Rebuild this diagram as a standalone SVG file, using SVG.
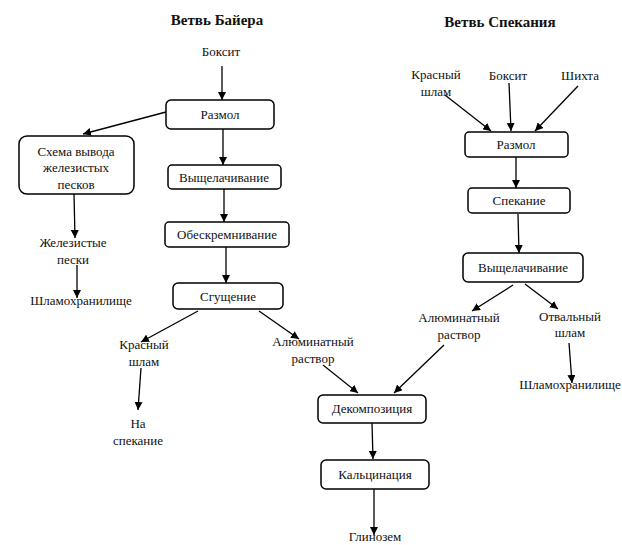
<svg xmlns="http://www.w3.org/2000/svg" width="622" height="545" viewBox="0 0 622 545">
<defs>
<marker id="ah" viewBox="0 0 10 10" refX="10" refY="5" markerWidth="8" markerHeight="8" markerUnits="userSpaceOnUse" orient="auto">
<path d="M0,0 L10,5 L0,10 z" fill="#000"/>
</marker>
</defs>
<style>
text{font-family:"Times New Roman",Times,"Liberation Serif","DejaVu Serif",serif;font-size:13px;fill:#111;text-anchor:middle}
.t{font-weight:bold;font-size:15px}
rect{fill:#fff;stroke:#000;stroke-width:1.5}
#connectors line{stroke:#000;stroke-width:1.3;marker-end:url(#ah)}
</style>
<rect x="0" y="0" width="622" height="545" style="stroke:none;fill:#fff"/>
<text class="t" x="217" y="25">Ветвь Байера</text>
<text class="t" x="500" y="27">Ветвь Спекания</text>

<g id="connectors">
<line x1="222" y1="66" x2="222" y2="100"/>
<line x1="166" y1="112" x2="83" y2="134"/>
<line x1="223" y1="129" x2="223" y2="165"/>
<line x1="224" y1="189" x2="224" y2="222"/>
<line x1="226" y1="247" x2="226" y2="283"/>
<line x1="198" y1="311" x2="141" y2="342"/>
<line x1="259" y1="311" x2="299" y2="339"/>
<line x1="141" y1="368" x2="138" y2="410"/>
<line x1="323" y1="365" x2="358" y2="393"/>
<line x1="444" y1="345" x2="394" y2="393"/>
<line x1="372" y1="423" x2="373" y2="459"/>
<line x1="374" y1="489" x2="374" y2="535"/>
<line x1="74" y1="194" x2="75" y2="238"/>
<line x1="77" y1="265" x2="77" y2="298"/>
<line x1="445" y1="95" x2="491" y2="131"/>
<line x1="509" y1="83" x2="511" y2="131"/>
<line x1="578" y1="86" x2="535" y2="131"/>
<line x1="516" y1="157" x2="516" y2="188"/>
<line x1="518" y1="214" x2="519" y2="253"/>
<line x1="513" y1="285" x2="472" y2="311"/>
<line x1="525" y1="284" x2="558" y2="309"/>
<line x1="569" y1="343" x2="572" y2="383"/>
</g>

<g id="n-boksit1"><text x="221" y="56">Боксит</text></g>
<g id="n-razmol1"><rect x="166" y="100" width="108" height="29" rx="5"/><text x="220" y="119">Размол</text></g>
<g id="n-shema"><rect x="19" y="136" width="115" height="58" rx="8"/><text x="76" y="156">Схема вывода</text><text x="76" y="172">железистых</text><text x="76" y="189">песков</text></g>
<g id="n-vysh1"><rect x="168" y="165" width="113" height="24" rx="4"/><text x="224" y="182">Выщелачивание</text></g>
<g id="n-obesk"><rect x="165" y="222" width="124" height="25" rx="4"/><text x="227" y="239">Обескремнивание</text></g>
<g id="n-sgush"><rect x="173" y="283" width="110" height="26" rx="5"/><text x="228" y="301">Сгущение</text></g>
<g id="n-krshl1"><text x="144" y="349">Красный</text><text x="144" y="366">шлам</text></g>
<g id="n-naspek"><text x="138" y="428">На</text><text x="138" y="445">спекание</text></g>
<g id="n-alum1"><text x="313" y="346">Алюминатный</text><text x="313" y="363">раствор</text></g>
<g id="n-dekomp"><rect x="318" y="395" width="108" height="28" rx="5"/><text x="372" y="413">Декомпозиция</text></g>
<g id="n-kalc"><rect x="321" y="460" width="108" height="29" rx="5"/><text x="375" y="479">Кальцинация</text></g>
<g id="n-glin"><text x="375" y="541">Глинозем</text></g>
<g id="n-zhel"><text x="73" y="247">Железистые</text><text x="73" y="264">пески</text></g>
<g id="n-shlam1"><text x="81" y="305">Шламохранилище</text></g>
<g id="n-krshl2"><text x="436" y="79">Красный</text><text x="436" y="96">шлам</text></g>
<g id="n-boksit2"><text x="508" y="80">Боксит</text></g>
<g id="n-shihta"><text x="580" y="80">Шихта</text></g>
<g id="n-razmol2"><rect x="465" y="132" width="103" height="25" rx="4"/><text x="516" y="149">Размол</text></g>
<g id="n-spek"><rect x="468" y="188" width="102" height="25" rx="4"/><text x="519" y="205">Спекание</text></g>
<g id="n-vysh2"><rect x="463" y="253" width="120" height="29" rx="5"/><text x="523" y="272">Выщелачивание</text></g>
<g id="n-alum2"><text x="459" y="322">Алюминатный</text><text x="459" y="339">раствор</text></g>
<g id="n-otv"><text x="570" y="321">Отвальный</text><text x="570" y="337">шлам</text></g>
<g id="n-shlam2"><text x="570" y="389">Шламохранилище</text></g>
</svg>
